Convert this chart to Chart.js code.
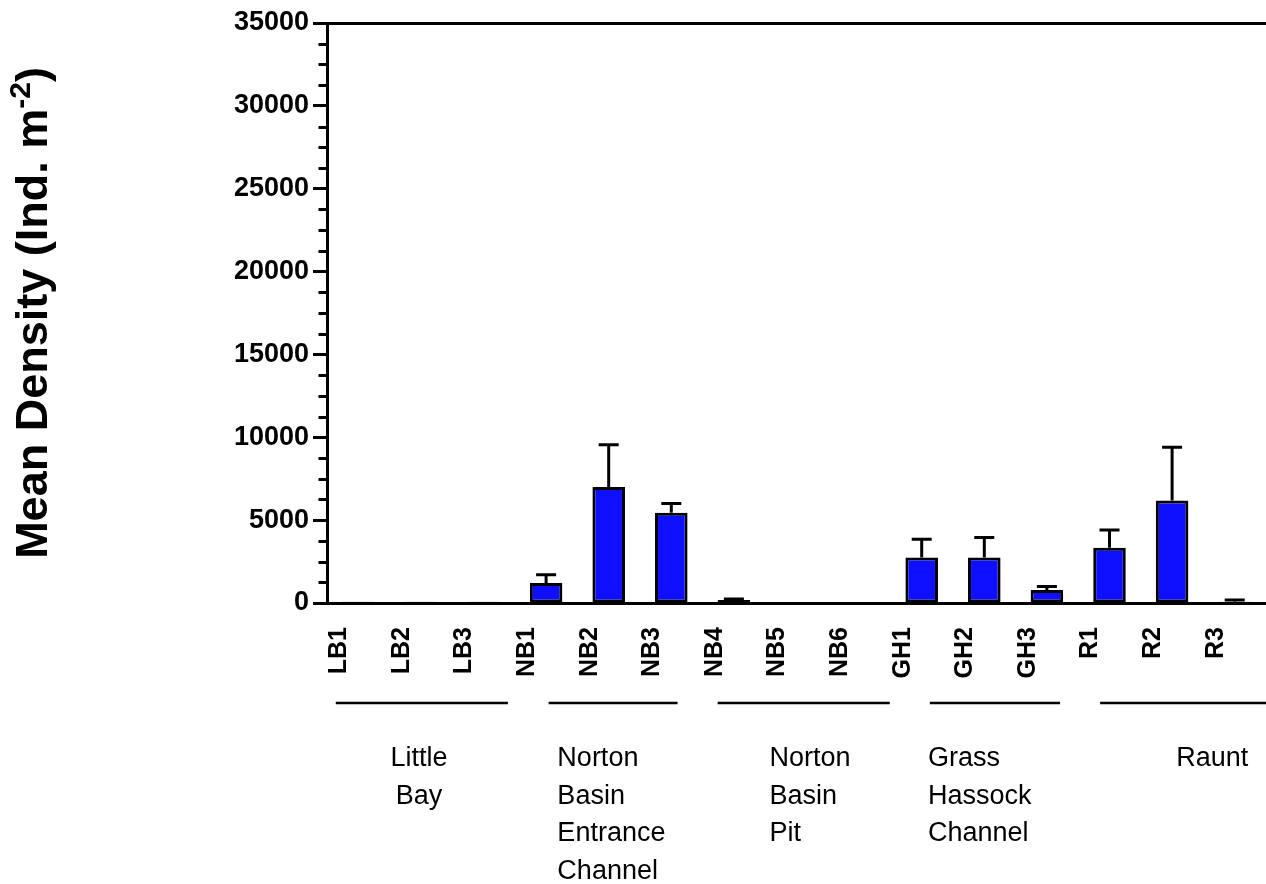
<!DOCTYPE html>
<html>
<head>
<meta charset="utf-8">
<script src="https://cdn.jsdelivr.net/npm/chart.js@4.4.1/dist/chart.umd.min.js"></script>
<style>
  html, body { margin: 0; padding: 0; background: #ffffff; }
  #wrap { width: 1266px; height: 884px; }
</style>
</head>
<body>
<div id="wrap"><canvas id="c" width="1266" height="884"></canvas></div>
<script>
// Sampling stations and their mean benthic density (individuals per m²)
const sites = ['LB1', 'LB2', 'LB3', 'NB1', 'NB2', 'NB3', 'NB4', 'NB5', 'NB6',
               'GH1', 'GH2', 'GH3', 'R1', 'R2', 'R3'];
const meanDensity = [80, 70, 75, 1200, 7000, 5450, 180, 60, 60,
                     2750, 2750, 780, 3330, 6180, 80];
// Upper error (standard error) for each station
const stdError = [0, 0, 0, 500, 2550, 550, 60, 0, 0,
                  1100, 1200, 220, 1070, 3220, 100];
// Y axis range and tick steps
const yMax = 35000;
const yMajorStep = 5000;
const yMinorStep = 1250;
// Station groups shown under the axis
const groupNames = [
  ['Little', 'Bay'],
  ['Norton', 'Basin', 'Entrance', 'Channel'],
  ['Norton', 'Basin', 'Pit'],
  ['Grass', 'Hassock', 'Channel'],
  ['Raunt']
];

// Where each group bracket and its caption sit, in category units
const groupLayout = [
  { from: -0.36, to: 2.39,  textAt: 0.97,  align: 'center' },
  { from: 3.04,  to: 5.10,  textAt: 3.18,  align: 'left' },
  { from: 5.74,  to: 8.49,  textAt: 6.57,  align: 'left' },
  { from: 9.13,  to: 11.21, textAt: 9.10,  align: 'left' },
  { from: 11.85, to: 14.5,  textAt: 13.64, align: 'center' }
];

const FONT = "'Liberation Sans', Arial, Helvetica, sans-serif";

// Upward error bars with caps
const errorBars = {
  id: 'errorBars',
  afterDatasetsDraw(chart) {
    const ctx = chart.ctx;
    const y = chart.scales.y;
    const meta = chart.getDatasetMeta(0);
    ctx.save();
    ctx.strokeStyle = '#000';
    ctx.lineWidth = 3;
    meta.data.forEach((bar, i) => {
      const err = stdError[i];
      if (!err) return;
      const yTop = y.getPixelForValue(meanDensity[i] + err);
      ctx.beginPath();
      ctx.moveTo(bar.x, bar.y);
      ctx.lineTo(bar.x, yTop);
      ctx.moveTo(bar.x - 10, yTop);
      ctx.lineTo(bar.x + 10, yTop);
      ctx.stroke();
    });
    ctx.restore();
  }
};

// Short minor ticks between the labelled ticks
const minorTicks = {
  id: 'minorTicks',
  afterDraw(chart) {
    const ctx = chart.ctx;
    const y = chart.scales.y;
    const x0 = chart.chartArea.left;
    ctx.save();
    ctx.strokeStyle = '#000';
    ctx.lineWidth = 3;
    for (let v = yMinorStep; v < yMax; v += yMinorStep) {
      if (v % yMajorStep === 0) continue;
      const py = Math.round(y.getPixelForValue(v)) + 0.5;
      ctx.beginPath();
      ctx.moveTo(x0 - 8.5, py);
      ctx.lineTo(x0, py);
      ctx.stroke();
    }
    ctx.restore();
  }
};

// Y axis title with superscript unit
const yTitle = {
  id: 'yTitle',
  afterDraw(chart) {
    const ctx = chart.ctx;
    const area = chart.chartArea;
    const main = 'bold 45px ' + FONT;
    const sup = 'bold 30px ' + FONT;
    const p1 = 'Mean Density (Ind. m', p2 = '-2', p3 = ')';
    ctx.save();
    ctx.font = main;
    const w1 = ctx.measureText(p1).width;
    const w3 = ctx.measureText(p3).width;
    ctx.font = sup;
    const w2 = ctx.measureText(p2).width;
    const total = w1 + w2 + w3;
    ctx.translate(47, (area.top + area.bottom) / 2);
    ctx.rotate(-Math.PI / 2);
    ctx.fillStyle = '#000';
    ctx.textBaseline = 'alphabetic';
    ctx.textAlign = 'left';
    let x = -total / 2;
    ctx.font = main;
    ctx.fillText(p1, x, 0);
    x += w1;
    ctx.font = sup;
    ctx.fillText(p2, x, -17);
    x += w2;
    ctx.font = main;
    ctx.fillText(p3, x, 0);
    ctx.restore();
  }
};

// Group brackets and captions under the station labels
const groupBands = {
  id: 'groupBands',
  afterDraw(chart) {
    const ctx = chart.ctx;
    const xs = chart.scales.x;
    const lineY = 703;
    const firstBase = 766;
    const lineGap = 37.5;
    ctx.save();
    ctx.strokeStyle = '#000';
    ctx.lineWidth = 2.5;
    ctx.fillStyle = '#000';
    ctx.font = '27px ' + FONT;
    ctx.textBaseline = 'alphabetic';
    groupLayout.forEach((g, k) => {
      const a = xs.getPixelForValue(g.from);
      const b = xs.getPixelForValue(g.to);
      ctx.beginPath();
      ctx.moveTo(a, lineY);
      ctx.lineTo(b, lineY);
      ctx.stroke();
      const tx = xs.getPixelForValue(g.textAt);
      ctx.textAlign = g.align;
      groupNames[k].forEach((line, j) => {
        ctx.fillText(line, tx, firstBase + j * lineGap);
      });
    });
    ctx.restore();
  }
};

function noSidePadding(scale) {
  scale.paddingLeft = 0;
  scale.paddingRight = 0;
}

new Chart(document.getElementById('c'), {
  type: 'bar',
  data: {
    labels: sites,
    datasets: [{
      data: meanDensity,
      xAxisID: 'x',
      yAxisID: 'y',
      backgroundColor: '#0F0FFF',
      borderColor: '#000000',
      borderWidth: 3,
      borderSkipped: false,
      barPercentage: 0.52,
      categoryPercentage: 1.0
    }]
  },
  options: {
    responsive: false,
    animation: false,
    devicePixelRatio: 1,
    layout: { padding: 0 },
    plugins: {
      legend: { display: false },
      tooltip: { enabled: false }
    },
    scales: {
      x: {
        type: 'category',
        position: 'bottom',
        offset: true,
        grid: { display: false, drawTicks: false },
        border: { display: true, color: '#000', width: 3 },
        ticks: {
          color: '#000',
          font: { family: FONT, size: 25, weight: 'bold' },
          minRotation: 90,
          maxRotation: 90,
          autoSkip: false,
          padding: 24,
          labelOffset: -19
        },
        afterFit(scale) { scale.height = 884 - 603; noSidePadding(scale); }
      },
      xTop: {
        type: 'category',
        position: 'top',
        offset: true,
        grid: { display: false, drawTicks: false },
        border: { display: true, color: '#000', width: 3 },
        ticks: { display: false },
        afterFit(scale) { scale.height = 23; noSidePadding(scale); }
      },
      y: {
        type: 'linear',
        position: 'left',
        min: 0,
        max: yMax,
        grid: { drawOnChartArea: false, drawTicks: true, tickLength: 14, tickWidth: 3, tickColor: '#000' },
        border: { display: true, color: '#000', width: 3 },
        ticks: {
          stepSize: yMajorStep,
          autoSkip: false,
          padding: 4,
          color: '#000',
          font: { family: FONT, size: 27, weight: 'bold' },
          callback: (v) => String(v)
        },
        afterFit(scale) { scale.width = 327; }
      }
    }
  },
  plugins: [errorBars, minorTicks, yTitle, groupBands]
});
</script>
</body>
</html>
